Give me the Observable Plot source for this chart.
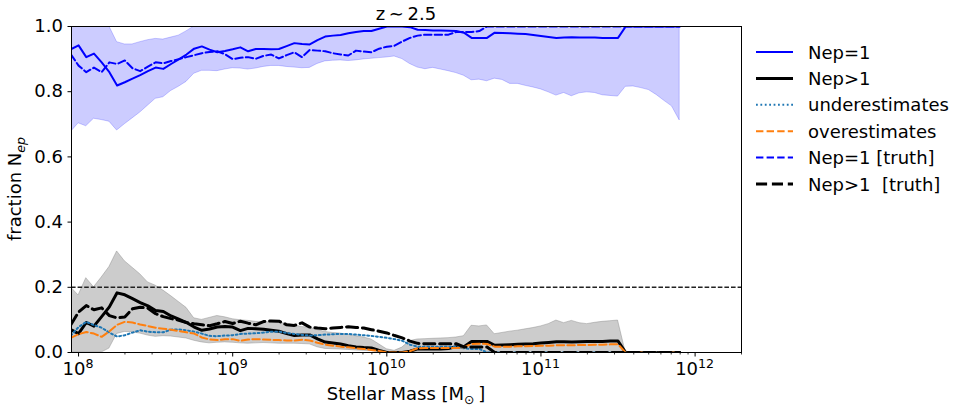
<!DOCTYPE html>
<html>
<head>
<meta charset="utf-8">
<script src="https://cdn.jsdelivr.net/npm/d3@7"></script>
<script src="https://cdn.jsdelivr.net/npm/@observablehq/plot@0.6"></script>
<style>
  body { margin: 0; background: #fff; }
  #chart svg { font-family: "DejaVu Sans", sans-serif; }
</style>
</head>
<body>
<div id="chart"></div>
<script>
// ---- data (bins in log10 stellar mass) ----
const logMass = [
  7.95,8.00,8.05,8.10,8.15,8.20,8.25,8.30,8.35,8.40,
  8.45,8.50,8.55,8.60,8.65,8.70,8.75,8.80,8.85,8.90,
  8.95,9.00,9.05,9.10,9.15,9.20,9.25,9.30,9.35,9.40,
  9.45,9.50,9.55,9.60,9.65,9.70,9.75,9.80,9.85,9.90,
  9.95,10.00,10.05,10.10,10.15,10.20,10.25,10.30,10.35,10.40,
  10.45,10.50,10.55,10.60,10.65,10.70,10.75,10.80,10.85,10.90,
  10.95,11.00,11.05,11.10,11.15,11.20,11.25,11.30,11.35,11.40,
  11.45,11.50,11.55,11.60,11.65,11.70,11.75,11.80,11.85,11.90
];
const nep1 = [
  0.930,0.942,0.906,0.917,0.890,0.860,0.819,0.829,0.840,0.851,
  0.863,0.874,0.870,0.885,0.899,0.914,0.932,0.939,0.929,0.921,
  0.925,0.930,0.936,0.924,0.931,0.931,0.930,0.931,0.940,0.949,
  0.946,0.945,0.958,0.969,0.972,0.974,0.979,0.983,0.986,0.986,
  0.993,1.000,1.000,1.000,0.998,0.990,0.989,0.988,0.988,0.987,
  0.986,0.981,0.965,0.965,0.965,0.981,0.980,0.979,0.978,0.977,
  0.974,0.971,0.968,0.965,0.966,0.967,0.966,0.966,0.966,0.965,
  0.965,0.965,1.000,1.000,1.000,1.000,1.000,1.000,1.000,1.000
];
const nep1Truth = [
  0.915,0.880,0.860,0.874,0.860,0.890,0.885,0.896,0.872,0.863,
  0.877,0.890,0.887,0.894,0.900,0.906,0.912,0.918,0.922,0.924,
  0.915,0.900,0.904,0.906,0.901,0.910,0.914,0.902,0.912,0.921,
  0.906,0.928,0.926,0.924,0.918,0.914,0.911,0.926,0.923,0.921,
  0.932,0.938,0.941,0.954,0.965,0.972,0.975,0.975,0.975,0.975,
  0.983,0.983,0.983,0.986,1.000,1.000,1.000,1.000,1.000,1.000,
  1.000,1.000,1.000,1.000,1.000,1.000,1.000,1.000,1.000,1.000,
  1.000,1.000,1.000,1.000,1.000,1.000,1.000,1.000,1.000,1.000
];
const nep1Lo = [
  0.676,0.703,0.694,0.717,0.713,0.708,0.681,0.700,0.718,0.736,
  0.757,0.778,0.783,0.802,0.815,0.830,0.855,0.864,0.864,0.863,
  0.868,0.872,0.871,0.868,0.871,0.876,0.879,0.879,0.876,0.874,
  0.872,0.873,0.885,0.893,0.895,0.896,0.894,0.896,0.899,0.901,
  0.903,0.905,0.908,0.900,0.885,0.874,0.869,0.873,0.868,0.863,
  0.857,0.849,0.835,0.837,0.832,0.840,0.836,0.824,0.824,0.818,
  0.813,0.807,0.798,0.788,0.796,0.786,0.795,0.798,0.796,0.789,
  0.787,0.785,0.815,0.816,0.811,0.805,0.790,0.772,0.755,0.712
];
const nep1Hi = [
  1.000,1.000,1.000,1.000,1.000,1.000,0.952,0.945,0.945,0.952,
  0.958,0.962,0.960,0.966,0.972,0.985,1.000,1.000,1.000,1.000,
  1.000,1.000,1.000,1.000,1.000,1.000,1.000,1.000,1.000,1.000,
  1.000,1.000,1.000,1.000,1.000,1.000,1.000,1.000,1.000,1.000,
  1.000,1.000,1.000,1.000,1.000,1.000,1.000,1.000,1.000,1.000,
  1.000,1.000,1.000,1.000,1.000,1.000,1.000,1.000,1.000,1.000,
  1.000,1.000,1.000,1.000,1.000,1.000,1.000,1.000,1.000,1.000,
  1.000,1.000,1.000,1.000,1.000,1.000,1.000,1.000,1.000,1.000
];
const nepM = [
  0.070,0.058,0.092,0.081,0.110,0.140,0.183,0.177,0.165,0.153,
  0.143,0.129,0.126,0.112,0.102,0.092,0.078,0.068,0.072,0.078,
  0.080,0.078,0.067,0.074,0.073,0.071,0.068,0.065,0.058,0.052,
  0.054,0.054,0.042,0.032,0.029,0.026,0.021,0.017,0.015,0.014,
  0.006,0.000,0.000,0.000,0.004,0.011,0.011,0.011,0.011,0.012,
  0.018,0.018,0.034,0.034,0.034,0.022,0.023,0.024,0.025,0.026,
  0.027,0.029,0.031,0.033,0.033,0.032,0.033,0.034,0.034,0.034,
  0.035,0.035,0.000,0.000,0.000,0.000,0.000,0.000,0.000,0.000
];
const nepMTruth = [
  0.085,0.124,0.144,0.131,0.137,0.113,0.106,0.109,0.134,0.139,
  0.136,0.119,0.110,0.104,0.099,0.092,0.088,0.085,0.082,0.088,
  0.095,0.089,0.096,0.090,0.085,0.095,0.097,0.096,0.085,0.083,
  0.091,0.078,0.075,0.073,0.075,0.077,0.079,0.077,0.075,0.070,
  0.065,0.060,0.052,0.045,0.035,0.028,0.027,0.027,0.027,0.027,
  0.027,0.017,0.017,0.017,0.017,0.000,0.000,0.000,0.000,0.000,
  0.000,0.000,0.000,0.000,0.000,0.000,0.000,0.000,0.000,0.000,
  0.000,0.000,0.000,0.000,0.000,0.000,0.000,0.000,0.000,0.000
];
const underest = [
  0.052,0.078,0.094,0.084,0.076,0.061,0.049,0.053,0.061,0.068,
  0.064,0.062,0.062,0.070,0.071,0.068,0.064,0.058,0.051,0.050,
  0.052,0.053,0.057,0.058,0.059,0.061,0.064,0.064,0.060,0.057,
  0.054,0.052,0.053,0.055,0.056,0.057,0.057,0.055,0.053,0.051,
  0.048,0.045,0.041,0.036,0.024,0.018,0.018,0.018,0.018,0.018,
  0.018,0.013,0.011,0.011,0.000,0.000,0.000,0.000,0.000,0.000,
  0.000,0.000,0.000,0.000,0.000,0.000,0.000,0.000,0.000,0.000,
  0.000,0.000,0.000,0.000,0.000,0.000,0.000,0.000,0.000,0.000
];
const overest = [
  0.045,0.056,0.063,0.058,0.048,0.065,0.085,0.094,0.092,0.086,
  0.081,0.076,0.073,0.070,0.066,0.062,0.058,0.046,0.040,0.038,
  0.041,0.041,0.036,0.040,0.041,0.040,0.039,0.038,0.037,0.037,
  0.039,0.037,0.030,0.024,0.021,0.018,0.016,0.013,0.011,0.008,
  0.005,0.000,0.000,0.000,0.004,0.013,0.014,0.014,0.014,0.014,
  0.014,0.016,0.026,0.027,0.026,0.018,0.018,0.018,0.019,0.019,
  0.020,0.021,0.021,0.022,0.022,0.022,0.023,0.023,0.024,0.024,
  0.025,0.025,0.000,0.000,0.000,0.000,0.000,0.000,0.000,0.000
];
const nepMHi = [
  0.200,0.175,0.228,0.200,0.230,0.262,0.310,0.280,0.260,0.240,
  0.215,0.205,0.190,0.173,0.155,0.137,0.105,0.100,0.106,0.112,
  0.108,0.102,0.099,0.097,0.094,0.093,0.092,0.091,0.089,0.083,
  0.078,0.076,0.069,0.063,0.060,0.058,0.054,0.050,0.046,0.040,
  0.025,0.010,0.005,0.015,0.035,0.040,0.041,0.042,0.043,0.044,
  0.046,0.050,0.082,0.080,0.083,0.056,0.060,0.064,0.067,0.071,
  0.075,0.080,0.087,0.098,0.090,0.097,0.090,0.087,0.091,0.094,
  0.096,0.098,0.000,0.000,0.000,0.000,0.000,0.000,0.000,0.000
];
const nepMLo = [
  0.000,0.000,0.000,0.000,0.000,0.012,0.057,0.063,0.062,0.058,
  0.052,0.048,0.050,0.049,0.046,0.043,0.036,0.031,0.028,0.030,
  0.031,0.030,0.028,0.027,0.028,0.029,0.028,0.027,0.027,0.027,
  0.026,0.025,0.016,0.011,0.010,0.009,0.008,0.006,0.005,0.004,
  0.002,0.000,0.000,0.000,0.000,0.000,0.000,0.000,0.000,0.000,
  0.000,0.000,0.000,0.000,0.000,0.000,0.000,0.000,0.000,0.000,
  0.000,0.000,0.000,0.000,0.000,0.000,0.000,0.000,0.000,0.000,
  0.000,0.000,0.000,0.000,0.000,0.000,0.000,0.000,0.000,0.000
];
const thresholdLine = [0.2];
const xMajorTicks = [1e8, 1e9, 1e10, 1e11, 1e12];
const xMajorExponents = ["8", "9", "10", "11", "12"];
const xMinorTicks = [
  2e8,3e8,4e8,5e8,6e8,7e8,8e8,9e8,
  2e9,3e9,4e9,5e9,6e9,7e9,8e9,9e9,
  2e10,3e10,4e10,5e10,6e10,7e10,8e10,9e10,
  2e11,3e11,4e11,5e11,6e11,7e11,8e11,9e11,
  2e12
];
const yTicks = [0, 0.2, 0.4, 0.6, 0.8, 1.0];
const titleText = "z\u2009\u223C\u20092.5";
const legendLabels = ["Nep=1", "Nep>1", "underestimates", "overestimates", "Nep=1 [truth]", "Nep>1  [truth]"];

// ---- table built from the arrays ----
const table = logMass.map((l, i) => ({
  m: Math.pow(10, l),
  nep1: nep1[i], nep1Truth: nep1Truth[i], nep1Lo: nep1Lo[i], nep1Hi: nep1Hi[i],
  nepM: nepM[i], nepMTruth: nepMTruth[i], under: underest[i], over: overest[i],
  nepMLo: nepMLo[i], nepMHi: nepMHi[i]
}));

// ---- styles ----
const BLUE = "#0000ff", BLACK = "#000000", TAB_BLUE = "#1f77b4", TAB_ORANGE = "#ff7f0e";
const series = [
  {key: "nep1",      stroke: BLUE,       width: 2, dash: null},
  {key: "nepM",      stroke: BLACK,      width: 3, dash: null},
  {key: "under",     stroke: TAB_BLUE,   width: 2, dash: "1.8,2.6"},
  {key: "over",      stroke: TAB_ORANGE, width: 2, dash: "7.4,3.2"},
  {key: "nep1Truth", stroke: BLUE,       width: 2, dash: "7.4,3.2"},
  {key: "nepMTruth", stroke: BLACK,      width: 3, dash: "11.1,4.8"}
];

const W = 963, H = 411, mL = 71, mR = 222, mT = 26, mB = 59;

const lineMarks = series.map(s => Plot.line(table, {
  x: "m", y: s.key, stroke: s.stroke, strokeWidth: s.width,
  strokeDasharray: s.dash, strokeLinejoin: "round", clip: true
}));

const chart = Plot.plot({
  width: W, height: H,
  marginLeft: mL, marginRight: mR, marginTop: mT, marginBottom: mB,
  style: {fontFamily: "DejaVu Sans", fontSize: "18px", background: "#fff", color: "#000", overflow: "visible"},
  x: {type: "log", domain: [9e7, 2e12]},
  y: {domain: [0, 1]},
  marks: [
    Plot.areaY(table, {x: "m", y1: "nep1Lo", y2: "nep1Hi", fill: BLUE, fillOpacity: 0.2,
      stroke: BLUE, strokeOpacity: 0.2, strokeWidth: 1, clip: true}),
    Plot.areaY(table, {x: "m", y1: "nepMLo", y2: "nepMHi", fill: "#808080", fillOpacity: 0.4,
      stroke: "#808080", strokeOpacity: 0.4, strokeWidth: 1, clip: true}),
    Plot.ruleY(thresholdLine, {stroke: "#222", strokeWidth: 1.5, strokeDasharray: "4.6,2"}),
    ...lineMarks,
    Plot.frame({stroke: "#000", strokeWidth: 1}),
    Plot.axisX(xMajorTicks, {tickSize: 4.5, tickFormat: () => "", label: null, strokeWidth: 1}),
    Plot.axisX(xMinorTicks, {tickSize: 2.5, tickFormat: () => "", label: null, strokeWidth: 0.8}),
    Plot.axisY(yTicks, {tickSize: 3.5, tickPadding: 5, tickFormat: d3.format(".1f"), label: null, fontSize: 18})
  ]
});

document.getElementById("chart").appendChild(chart);

// ---- custom text: title, x tick labels with superscripts, axis labels, legend ----
const svg = d3.select(chart);
const xs = chart.scale("x");
const ys = chart.scale("y");
const plotBottom = ys.apply(0);
const plotTop = ys.apply(1);
const plotLeft = mL, plotRight = W - mR;
const cx = (plotLeft + plotRight) / 2;

const txt = svg.append("g").attr("font-family", "DejaVu Sans").attr("font-size", 18)
  .attr("fill", "#000").attr("text-anchor", "middle");

// title
txt.append("text").attr("x", cx).attr("y", plotTop - 6).text(titleText);

// x tick labels
xMajorTicks.forEach((t, i) => {
  const px = xs.apply(t);
  if (px < plotLeft - 20 || px > plotRight + 20) return;
  const tx = txt.append("text").attr("x", px).attr("y", plotBottom + 23);
  tx.append("tspan").text("10");
  tx.append("tspan").attr("font-size", 12.6).attr("dy", -7.5).text(xMajorExponents[i]);
});

// x label
const xlab = txt.append("text").attr("x", cx).attr("y", plotBottom + 48);
xlab.append("tspan").text("Stellar Mass [M");
xlab.append("tspan").attr("font-size", 12.6).attr("dy", 3.5).text("\u2299");
xlab.append("tspan").attr("dy", -3.5).text("\u2009]");

// y label
const ylab = txt.append("text")
  .attr("transform", `translate(21,${(plotTop + plotBottom) / 2}) rotate(-90)`);
ylab.append("tspan").text("fraction N");
ylab.append("tspan").attr("font-size", 12.6).attr("font-style", "italic").attr("dy", 3.5).text("ep");

// legend
const lg = svg.append("g").attr("font-family", "DejaVu Sans").attr("font-size", 18).attr("fill", "#000");
const lx0 = plotRight + 15, lx1 = plotRight + 52, ltx = plotRight + 67, ly0 = plotTop + 26, ldy = 26.4;
series.forEach((s, i) => {
  const yy = ly0 + i * ldy;
  lg.append("line").attr("x1", lx0).attr("x2", lx1).attr("y1", yy).attr("y2", yy)
    .attr("stroke", s.stroke).attr("stroke-width", s.width)
    .attr("stroke-dasharray", s.dash);
  lg.append("text").attr("x", ltx).attr("y", yy + 6.5).attr("text-anchor", "start")
    .style("white-space", "pre").text(legendLabels[i]);
});
</script>
</body>
</html>
